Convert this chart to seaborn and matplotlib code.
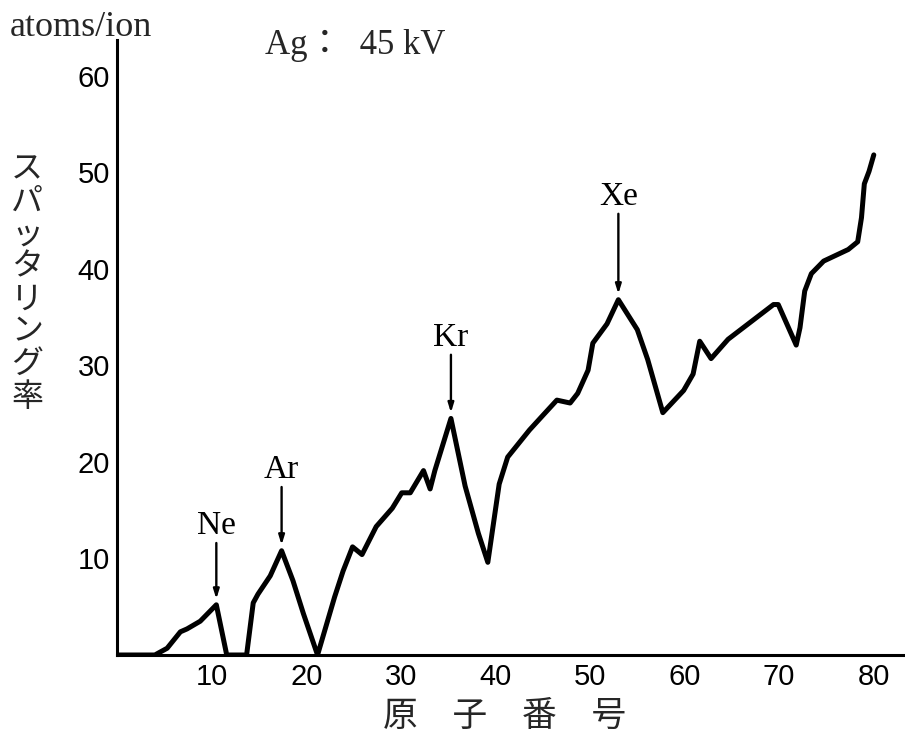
import matplotlib
matplotlib.use("Agg")
import matplotlib.pyplot as plt
import seaborn as sns
import pandas as pd

# ---- data ----
atomic_number = [0, 4.0, 5.3, 6.7, 7.4, 8.8, 10.5, 11.6, 13.7, 14.4, 14.9, 16.2, 17.4,
                 18.6, 19.7, 21.2, 23.0, 23.9, 24.9, 25.9, 27.4, 29.1, 30.1, 31.0, 32.4,
                 33.1, 33.6, 35.3, 36.8, 38.2, 39.2, 40.4, 41.3, 43.6, 45.0, 46.5, 47.9,
                 48.7, 49.8, 50.3, 51.8, 53.0, 55.0, 56.1, 57.7, 59.9, 60.9, 61.6, 62.8,
                 64.6, 67.0, 69.4, 69.9, 71.8, 72.2, 72.7, 73.4, 74.7, 77.3, 78.3, 78.7,
                 79.0, 79.5, 80.0]
sputter_yield = [0, 0, 0.7, 2.4, 2.7, 3.5, 5.2, 0, 0, 5.4, 6.3, 8.2, 10.8,
                 7.7, 4.3, 0, 6.0, 8.7, 11.2, 10.4, 13.3, 15.2, 16.8, 16.8, 19.1,
                 17.2, 19.1, 24.5, 17.5, 12.6, 9.6, 17.7, 20.5, 23.3, 24.8, 26.4, 26.1,
                 27.1, 29.5, 32.3, 34.3, 36.8, 33.7, 30.6, 25.1, 27.4, 29.1, 32.5, 30.7,
                 32.7, 34.5, 36.3, 36.3, 32.1, 33.9, 37.7, 39.5, 40.8, 42.0, 42.8, 45.3,
                 48.8, 50.1, 51.8]

peak_labels = ["Ne", "Ar", "Kr", "Xe"]
peak_x = [10.5, 17.4, 35.3, 53.0]
peak_y = [5.2, 10.8, 24.5, 36.8]

x_ticks = [10, 20, 30, 40, 50, 60, 70, 80]
y_ticks = [10, 20, 30, 40, 50, 60]

df = pd.DataFrame({"Z": atomic_number, "Y": sputter_yield})

sns.set_style("white")
serif = ["Liberation Serif", "DejaVu Serif"]
sans = ["Liberation Sans", "DejaVu Sans"]
cjk = ["Noto Sans CJK JP", "DejaVu Sans"]
plt.rcParams["font.family"] = serif

fig = plt.figure(figsize=(9.05, 7.42), dpi=100)
ax = fig.add_axes([117 / 905, 87 / 742, (905 - 117) / 905, (655 - 40) / 742])

sns.lineplot(data=df, x="Z", y="Y", ax=ax, color="black", linewidth=3.6,
             sort=False, estimator=None)
for ln in ax.lines:
    ln.set_solid_joinstyle("round")
    ln.set_solid_capstyle("round")

ax.set_xlim(0, 83.3)
ax.set_ylim(0, 63.7)
ax.set_xticks(x_ticks)
ax.set_yticks(y_ticks)
ax.set_xticklabels([str(t) for t in x_ticks], family=sans, fontsize=21)
ax.set_yticklabels([str(t) for t in y_ticks], family=sans, fontsize=21)
ax.tick_params(axis="both", direction="in", length=9, width=1.5, colors="black",
               labelcolor="black")
ax.tick_params(axis="x", pad=6)
ax.tick_params(axis="y", pad=5)

for side in ["top", "right"]:
    ax.spines[side].set_visible(False)
for side in ["left", "bottom"]:
    ax.spines[side].set_linewidth(2.2)
    ax.spines[side].set_color("black")

ax.set_xlabel("")
ax.set_ylabel("")

# peak annotations (label height above each peak, in data units)
label_gap = [6.8, 7.0, 7.0, 9.3]
for lab, px, py, gap in zip(peak_labels, peak_x, peak_y, label_gap):
    ax.annotate("", xy=(px, py + 0.6), xytext=(px, py + gap - 0.4),
                arrowprops=dict(arrowstyle="-|>,head_length=0.55,head_width=0.17",
                                color="black", lw=1.7, shrinkA=0, shrinkB=0))
    ax.text(px, py + gap - 0.2, lab, ha="center", va="bottom", fontsize=24,
            family=serif, color="black")

# texts outside axes
fig.text(10 / 905, 1 - 27 / 742, "atoms/ion", ha="left", va="center",
         fontsize=26, family=serif)
fig.text(265 / 905, 1 - 45 / 742, "Ag：  45 kV", ha="left", va="center",
         fontsize=25, family=["Liberation Serif", "Noto Sans CJK JP"])
fig.text(27 / 905, 1 - 283 / 742, "\n".join("スパッタリング率"), ha="center",
         va="center", fontsize=23, family=cjk, linespacing=1.02)
fig.text(505 / 905, 1 - 716 / 742, "原　子　番　号", ha="center", va="center",
         fontsize=25, family=cjk)

fig.savefig("out.png", dpi=100, facecolor="white")
